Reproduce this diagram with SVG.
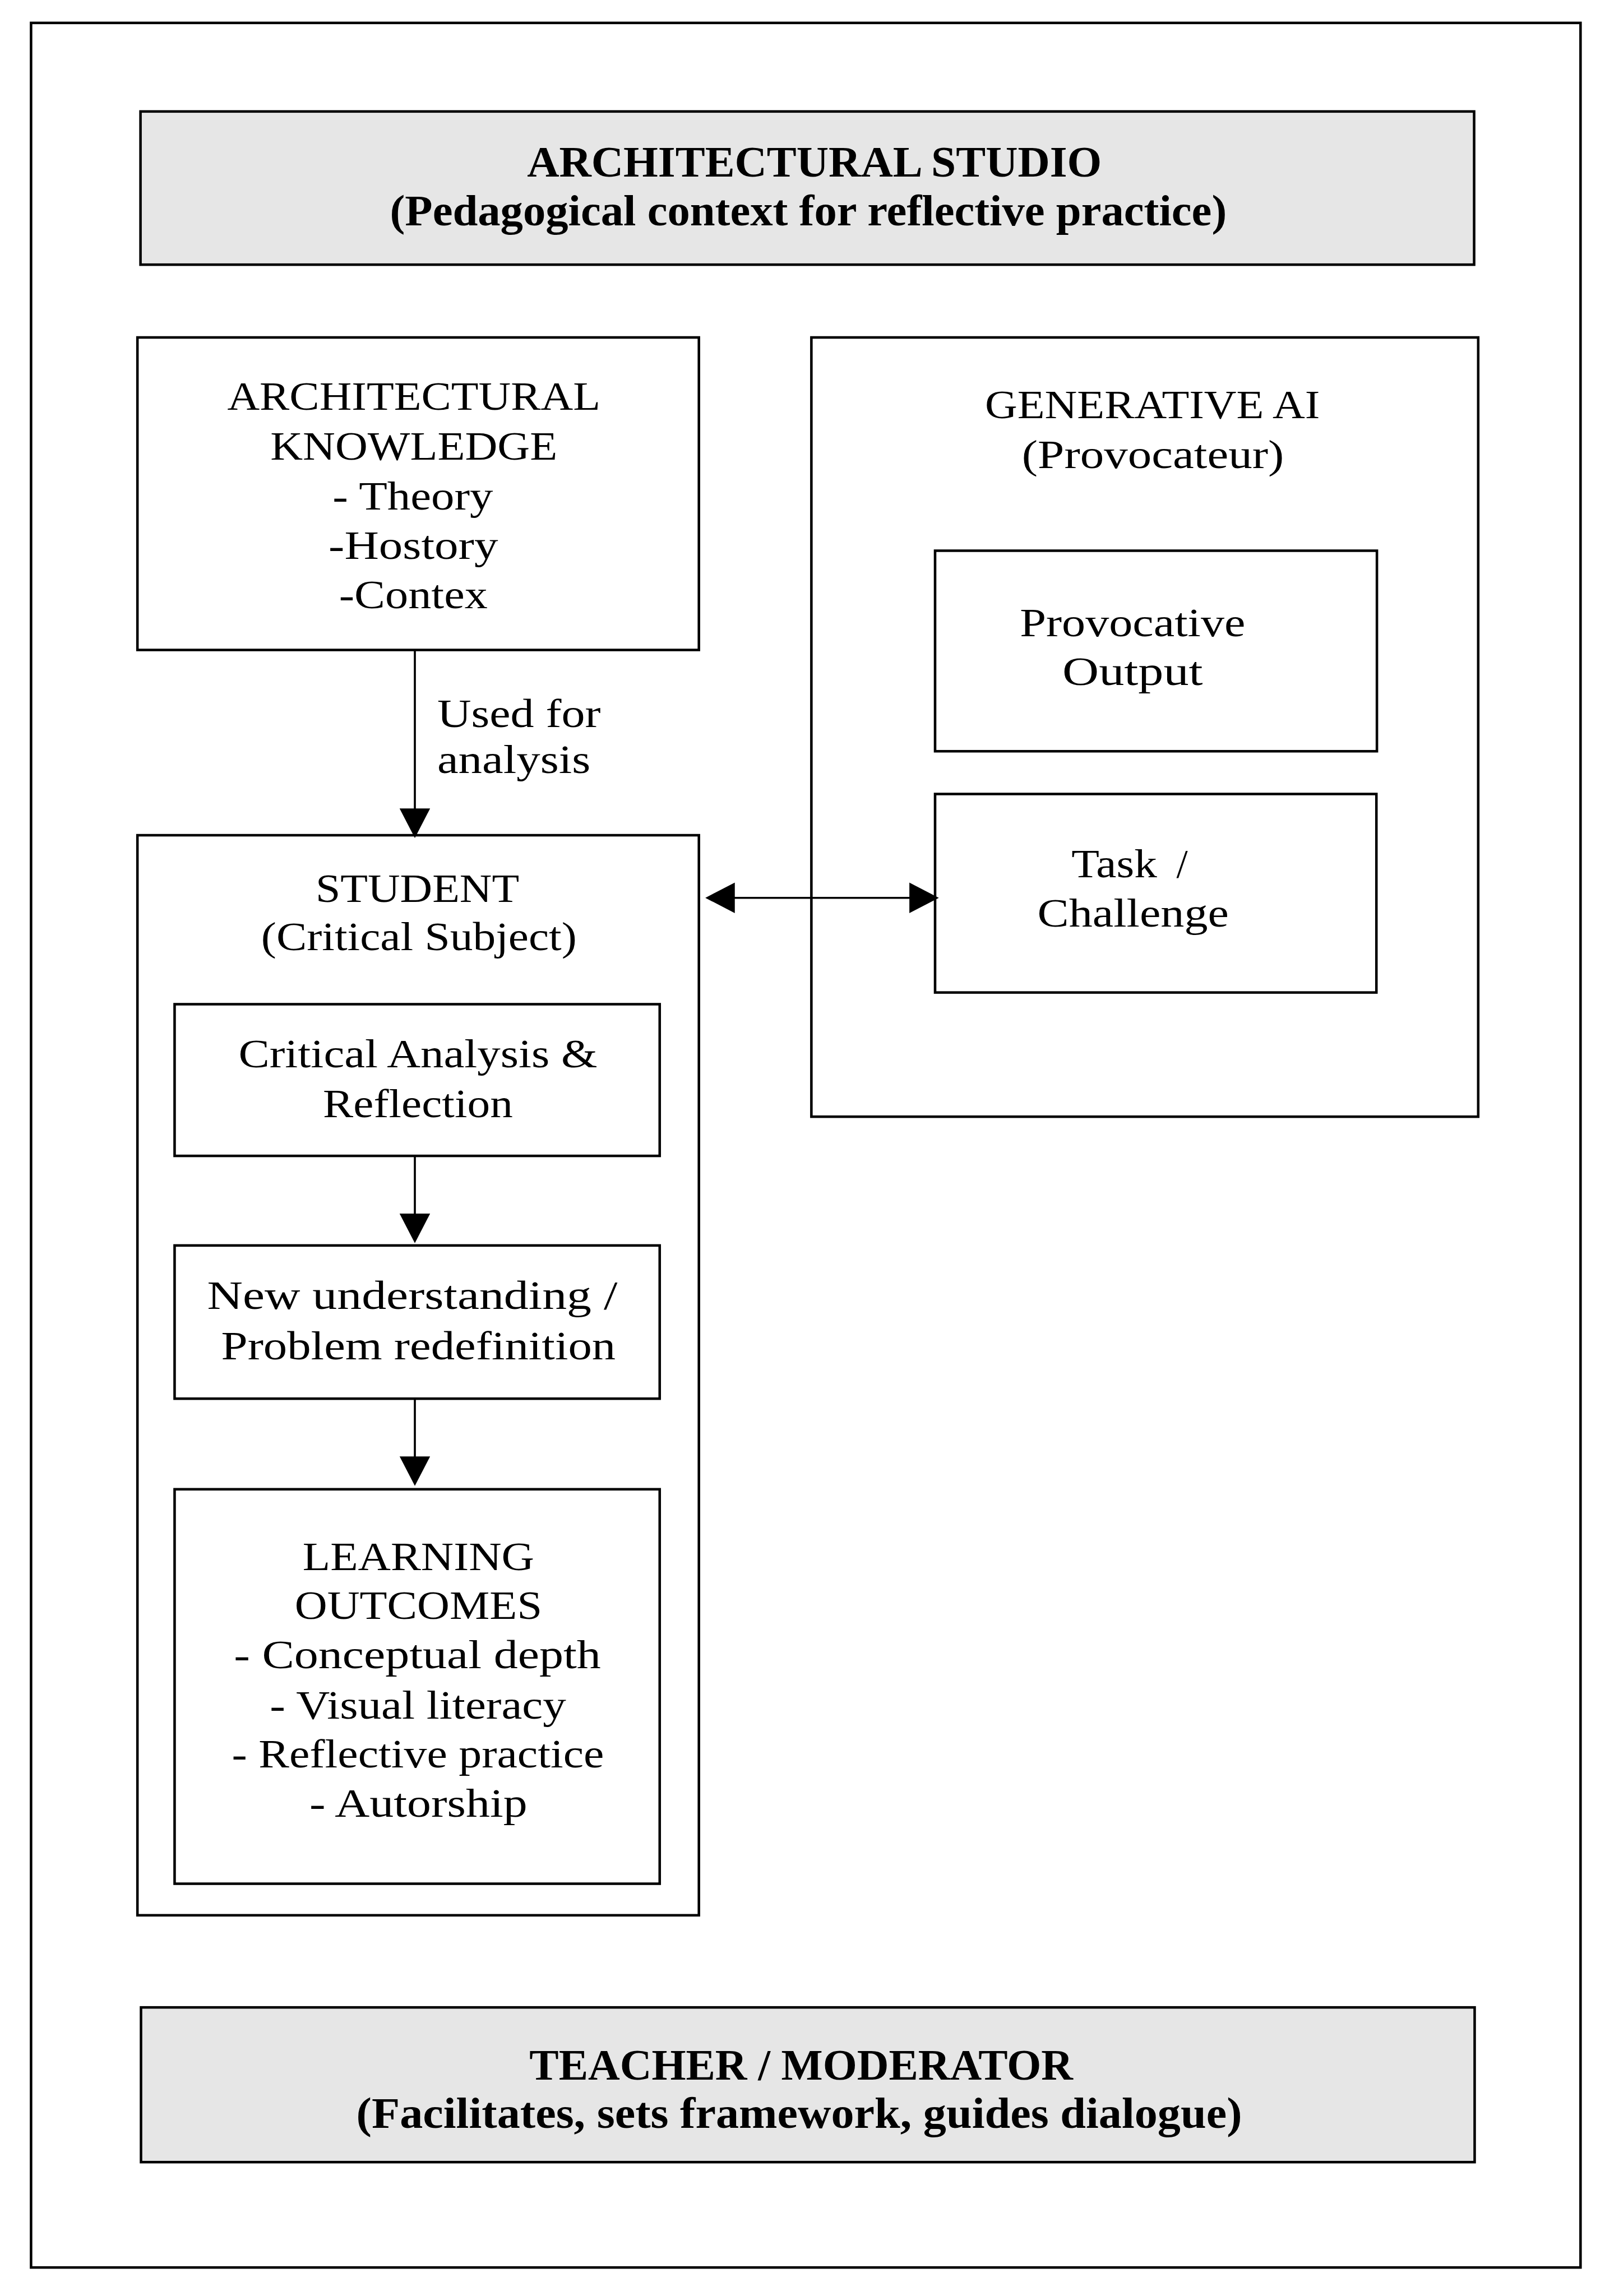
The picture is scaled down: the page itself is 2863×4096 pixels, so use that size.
<svg xmlns="http://www.w3.org/2000/svg" width="2863" height="4096" viewBox="0 0 2863 4096">
<style>
.box{fill:#ffffff;stroke:#000;stroke-width:5}
.band{fill:#e6e6e6;stroke:#000;stroke-width:5}
.frame{fill:none;stroke:#000;stroke-width:5}
.t{font-family:"Liberation Serif","Times New Roman",serif;font-size:80px;fill:#000;text-anchor:middle}
.l{text-anchor:start}
.b{font-family:"Liberation Serif","Times New Roman",serif;font-size:86px;font-weight:bold;fill:#000;text-anchor:middle}
.c{fill:none;stroke:#000;stroke-width:4}
</style>
<defs>
<marker id="ah" markerUnits="userSpaceOnUse" markerWidth="60" markerHeight="60" viewBox="0 0 56 58" refX="16" refY="29" orient="auto-start-reverse">
<path d="M0,0 L56,29 L0,58 z" fill="#000"/>
</marker>
</defs>
<rect width="2863" height="4096" fill="#ffffff"/>
<g transform="scale(0.908)">
<g id="outer-frame"><rect class="frame" x="61" y="45" width="3044" height="4410"/></g>
<g id="studio">
<rect class="band" x="276" y="219" width="2620" height="301"/>
<text class="b" x="1600" y="347" textLength="1129" lengthAdjust="spacingAndGlyphs">ARCHITECTURAL STUDIO</text>
<text class="b" x="1588" y="443" textLength="1644" lengthAdjust="spacingAndGlyphs">(Pedagogical context for reflective practice)</text>
</g>
<g id="knowledge">
<rect class="box" x="270" y="663" width="1103" height="614"/>
<text class="t" x="813" y="805" textLength="733" lengthAdjust="spacingAndGlyphs">ARCHITECTURAL</text>
<text class="t" x="813" y="903" textLength="564" lengthAdjust="spacingAndGlyphs">KNOWLEDGE</text>
<text class="t" x="811" y="1001" textLength="315" lengthAdjust="spacingAndGlyphs">- Theory</text>
<text class="t" x="812" y="1098" textLength="333" lengthAdjust="spacingAndGlyphs">-Hostory</text>
<text class="t" x="812" y="1195" textLength="292" lengthAdjust="spacingAndGlyphs">-Contex</text>
</g>
<g id="generative-ai">
<rect class="box" x="1594" y="663" width="1310" height="1531"/>
<text class="t" x="2264" y="822" textLength="658" lengthAdjust="spacingAndGlyphs">GENERATIVE AI</text>
<text class="t" x="2265" y="920" textLength="515" lengthAdjust="spacingAndGlyphs">(Provocateur)</text>
</g>
<g id="provocative-output">
<rect class="box" x="1837" y="1082" width="868" height="394"/>
<text class="t" x="2225" y="1250" textLength="443" lengthAdjust="spacingAndGlyphs">Provocative</text>
<text class="t" x="2225" y="1346" textLength="276" lengthAdjust="spacingAndGlyphs">Output</text>
</g>
<g id="task-challenge">
<rect class="box" x="1837" y="1560" width="867" height="390"/>
<text class="t l" y="1724"><tspan x="2105" textLength="168" lengthAdjust="spacingAndGlyphs">Task</tspan><tspan x="2311">/</tspan></text>
<text class="t" x="2226" y="1820" textLength="376" lengthAdjust="spacingAndGlyphs">Challenge</text>
</g>
<g id="student">
<rect class="box" x="270" y="1641" width="1103" height="2122"/>
<text class="t" x="820" y="1772" textLength="400" lengthAdjust="spacingAndGlyphs">STUDENT</text>
<text class="t" x="823" y="1867" textLength="620" lengthAdjust="spacingAndGlyphs">(Critical Subject)</text>
</g>
<g id="critical-analysis">
<rect class="box" x="343" y="1973" width="953" height="298"/>
<text class="t" x="821" y="2097" textLength="705" lengthAdjust="spacingAndGlyphs">Critical Analysis &amp;</text>
<text class="t" x="821" y="2195" textLength="373" lengthAdjust="spacingAndGlyphs">Reflection</text>
</g>
<g id="new-understanding">
<rect class="box" x="343" y="2447" width="953" height="301"/>
<text class="t" x="810" y="2572" textLength="806" lengthAdjust="spacingAndGlyphs">New understanding /</text>
<text class="t" x="822" y="2671" textLength="775" lengthAdjust="spacingAndGlyphs">Problem redefinition</text>
</g>
<g id="learning-outcomes">
<rect class="box" x="343" y="2926" width="953" height="775"/>
<text class="t" x="822" y="3085" textLength="455" lengthAdjust="spacingAndGlyphs">LEARNING</text>
<text class="t" x="822" y="3181" textLength="486" lengthAdjust="spacingAndGlyphs">OUTCOMES</text>
<text class="t" x="820" y="3278" textLength="721" lengthAdjust="spacingAndGlyphs">- Conceptual depth</text>
<text class="t" x="821" y="3377" textLength="582" lengthAdjust="spacingAndGlyphs">- Visual literacy</text>
<text class="t" x="821" y="3473" textLength="731" lengthAdjust="spacingAndGlyphs">- Reflective practice</text>
<text class="t" x="822" y="3569" textLength="428" lengthAdjust="spacingAndGlyphs">- Autorship</text>
</g>
<g id="teacher">
<rect class="band" x="277" y="3944" width="2620" height="304"/>
<text class="b" x="1574" y="4086" textLength="1068" lengthAdjust="spacingAndGlyphs">TEACHER / MODERATOR</text>
<text class="b" x="1570" y="4181" textLength="1740" lengthAdjust="spacingAndGlyphs">(Facilitates, sets framework, guides dialogue)</text>
</g>
<g id="connectors">
<path class="c" d="M815,1277 L815,1605" marker-end="url(#ah)"/>
<text class="t l" x="859" y="1428" textLength="321" lengthAdjust="spacingAndGlyphs">Used for</text>
<text class="t l" x="859" y="1519" textLength="301" lengthAdjust="spacingAndGlyphs">analysis</text>
<path class="c" d="M1427,1764 L1803,1764" marker-start="url(#ah)" marker-end="url(#ah)"/>
<path class="c" d="M815,2271 L815,2401" marker-end="url(#ah)"/>
<path class="c" d="M815,2748 L815,2878" marker-end="url(#ah)"/>
</g>
</g>
</svg>
